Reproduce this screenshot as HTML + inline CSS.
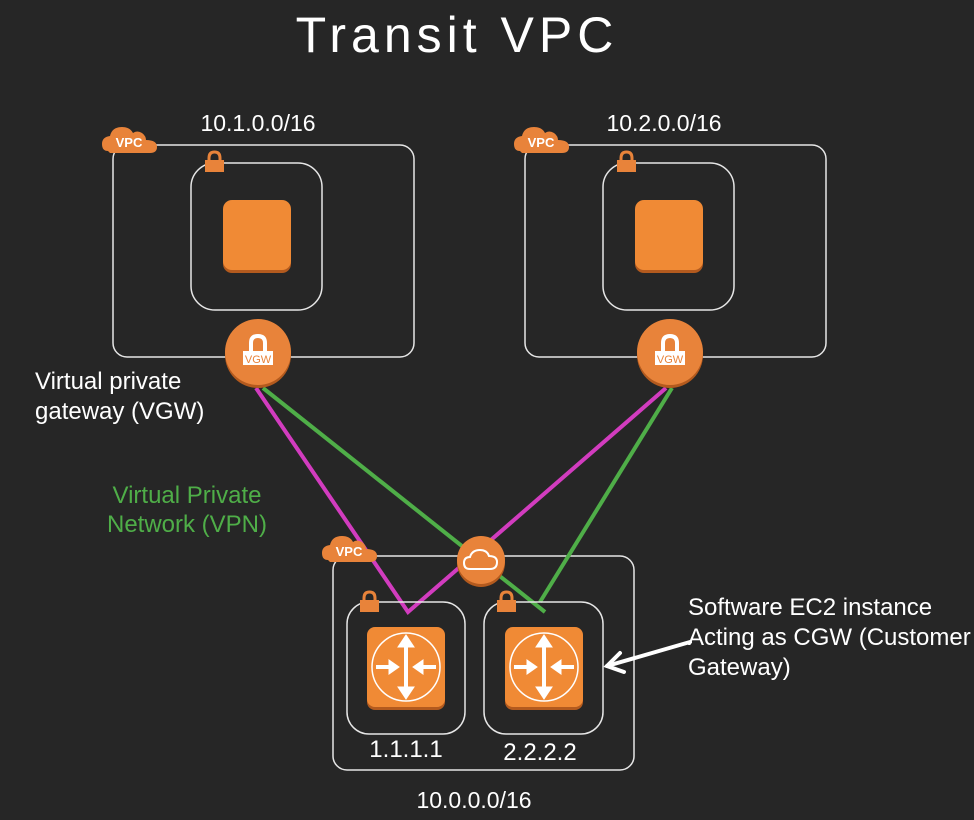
<!DOCTYPE html>
<html><head><style>
body{margin:0;background:#262626;}
svg{display:block;font-family:"Liberation Sans",sans-serif;}
</style></head><body>
<svg width="974" height="820" viewBox="0 0 974 820">
<rect width="974" height="820" fill="#262626"/>
<defs>
<g id="badge"><path d="M6 26 Q0 26 0 19 Q0 12 8 11 Q10 2 20 2 Q28 2 31 8 Q35 5 40 8 Q44 11 44 15 Q55 15 55 22 Q55 28 48 28 L8 28 Z" fill="#e8833a"/><text x="27" y="22" font-size="13" font-weight="bold" fill="#fff" text-anchor="middle">VPC</text></g>
<g id="lock"><path d="M4 9 V6 Q4 0 9.5 0 Q15 0 15 6 V9" fill="none" stroke="#e8833a" stroke-width="3"/><rect x="0" y="8" width="19" height="12" fill="#e8833a"/></g>
<g id="vgw"><circle cx="0" cy="3" r="33" fill="#b35a1e"/><circle cx="0" cy="0" r="33" fill="#e8833a"/><path d="M-7 0 V-9 Q-7 -16 0 -16 Q7 -16 7 -9 V0" fill="none" stroke="#fff" stroke-width="4"/><rect x="-15" y="-1" width="30" height="14" fill="#fff"/><text x="0" y="11" font-size="11" fill="#e8833a" text-anchor="middle">VGW</text></g>
<g id="router"><rect x="0" y="3" width="78" height="80" rx="8" fill="#b35a1e"/><rect x="0" y="0" width="78" height="80" rx="8" fill="#f08a35"/><circle cx="39" cy="40" r="34" fill="none" stroke="#fff" stroke-width="1.5"/><g fill="#fff" stroke="#fff"><line x1="39" y1="14" x2="39" y2="66" stroke-width="4"/><path d="M31 20 L39 8 L47 20Z"/><path d="M31 60 L39 72 L47 60Z"/><line x1="9" y1="40" x2="24" y2="40" stroke-width="4"/><path d="M22 33 L32 40 L22 47Z"/><line x1="54" y1="40" x2="69" y2="40" stroke-width="4"/><path d="M56 33 L46 40 L56 47Z"/></g></g>
</defs>
<text x="457" y="52" font-size="50" fill="#fff" text-anchor="middle" letter-spacing="5" font-weight="300">Transit VPC</text>

<rect x="113" y="145" width="301" height="212" rx="14" fill="none" stroke="#e6e6e6" stroke-width="1.5"/>
<use href="#badge" x="102" y="125"/>
<text x="258" y="131" font-size="23" fill="#fff" text-anchor="middle">10.1.0.0/16</text>
<rect x="191" y="163" width="131" height="147" rx="24" fill="none" stroke="#e6e6e6" stroke-width="1.5"/>
<use href="#lock" x="205" y="152"/>
<rect x="223" y="203" width="68" height="70" rx="9" fill="#b35a1e"/>
<rect x="223" y="200" width="68" height="70" rx="9" fill="#f08a35"/>
<rect x="525" y="145" width="301" height="212" rx="14" fill="none" stroke="#e6e6e6" stroke-width="1.5"/>
<use href="#badge" x="514" y="125"/>
<text x="664" y="131" font-size="23" fill="#fff" text-anchor="middle">10.2.0.0/16</text>
<rect x="603" y="163" width="131" height="147" rx="24" fill="none" stroke="#e6e6e6" stroke-width="1.5"/>
<use href="#lock" x="617" y="152"/>
<rect x="635" y="203" width="68" height="70" rx="9" fill="#b35a1e"/>
<rect x="635" y="200" width="68" height="70" rx="9" fill="#f08a35"/>

<rect x="333" y="556" width="301" height="214" rx="14" fill="none" stroke="#e6e6e6" stroke-width="1.5"/>

<g stroke-width="4" fill="none">
<polyline points="256,388 408,612 666,388" stroke="#d23cbf"/>
<line x1="263" y1="388" x2="545" y2="612" stroke="#4fae48"/>
<line x1="672" y1="388" x2="540" y2="602" stroke="#4fae48"/>
</g>

<use href="#vgw" x="258" y="352"/>
<use href="#vgw" x="670" y="352"/>
<use href="#badge" x="322" y="534"/>
<circle cx="481" cy="563" r="24" fill="#b35a1e"/>
<circle cx="481" cy="560" r="24" fill="#e8833a"/>
<path d="M470 569 Q464 569 464 563 Q464 557 470 557 Q472 550 480 550 Q487 550 489 556 Q497 556 497 562 Q497 569 490 569 Z" fill="none" stroke="#fff" stroke-width="2"/>

<rect x="347" y="602" width="118" height="132" rx="22" fill="none" stroke="#e6e6e6" stroke-width="1.5"/>
<rect x="484" y="602" width="119" height="132" rx="22" fill="none" stroke="#e6e6e6" stroke-width="1.5"/>
<use href="#lock" x="360" y="592"/>
<use href="#lock" x="497" y="592"/>
<use href="#router" x="367" y="627"/>
<use href="#router" x="505" y="627"/>
<text x="406" y="757" font-size="24" fill="#fff" text-anchor="middle">1.1.1.1</text>
<text x="540" y="760" font-size="24" fill="#fff" text-anchor="middle">2.2.2.2</text>
<text x="474" y="808" font-size="23" fill="#fff" text-anchor="middle">10.0.0.0/16</text>

<text font-size="24" fill="#fff"><tspan x="35" y="389">Virtual private</tspan><tspan x="35" y="419">gateway (VGW)</tspan></text>
<text font-size="24" fill="#4fae48" text-anchor="middle"><tspan x="187" y="503">Virtual Private</tspan><tspan x="187" y="532">Network (VPN)</tspan></text>
<text font-size="24" fill="#fff"><tspan x="688" y="615">Software EC2 instance</tspan><tspan x="688" y="645">Acting as CGW (Customer</tspan><tspan x="688" y="675">Gateway)</tspan></text>
<g stroke="#fff" stroke-width="4" fill="none" stroke-linecap="round"><line x1="690" y1="642" x2="607" y2="666"/><polyline points="620,653 607,666 624,672"/></g>
</svg>
</body></html>
